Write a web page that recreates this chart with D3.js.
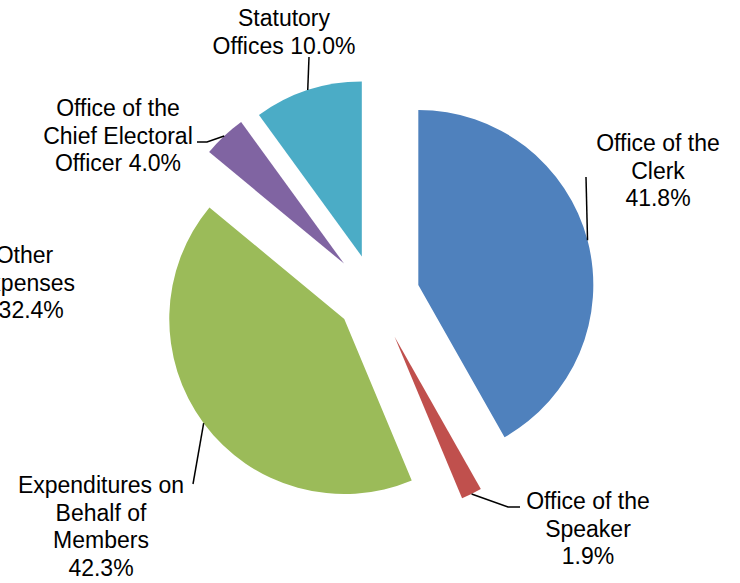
<!DOCTYPE html>
<html>
<head>
<meta charset="utf-8">
<script src="https://cdn.jsdelivr.net/npm/d3@7"></script>
<style>
  html, body { margin: 0; padding: 0; background: #fff; }
  svg { display: block; }
  text { font-family: "Liberation Sans", Arial, sans-serif; font-size: 23px; fill: #000; }
</style>
</head>
<body>
<svg id="chart" width="740" height="583"></svg>
<script>
// ---- data ----
const categories = [
  "Office of the Clerk",
  "Office of the Speaker",
  "Expenditures on Behalf of Members",
  "Other Expenses",
  "Office of the Chief Electoral Officer",
  "Statutory Offices"
];
const values = [41.8, 1.9, 42.3, -32.4, 4.0, 10.0];
const nameLines = [
  ["Office of the", "Clerk"],
  ["Office of the", "Speaker"],
  ["Expenditures on", "Behalf of", "Members"],
  ["Other", "Expenses"],
  ["Office of the", "Chief Electoral", "Officer"],
  ["Statutory", "Offices"]
];
const colors = ["#4F81BD", "#C0504D", "#9BBB59", "#F79646", "#8064A2", "#4BACC6"];

// ---- layout ----
const svg = d3.select("#chart");
const cx = 374.8, cy = 296.4, R = 175;
const explode = [45, 45, 38, 0, 45, 42];
const pctJoin = [false, false, false, false, true, true];
const labelPos = [
  { x: 658, y: 151, leader: [[586, 177]] },
  { x: 588, y: 509, leader: [[508, 507], [520, 507]] },
  { x: 101, y: 493, leader: [[193, 484]] },
  { x: 24.5, y: 263, leader: null },
  { x: 118, y: 116, leader: [[207, 142], [197, 142]] },
  { x: 284, y: 26, leader: [[309, 57]] }
];
const lineH = 27.5;

const pie = d3.pie().sort(null).value(d => Math.max(0, d)).startAngle(0).endAngle(2 * Math.PI);
const arcs = pie(values);
const arc = d3.arc().innerRadius(0).outerRadius(R);
const fmt = d3.format(".1f");

const g = svg.append("g").attr("transform", `translate(${cx},${cy})`);

arcs.forEach((a, i) => {
  if (a.endAngle - a.startAngle <= 0) return;
  const mid = (a.startAngle + a.endAngle) / 2;
  const ox = explode[i] * Math.sin(mid), oy = -explode[i] * Math.cos(mid);
  g.append("path")
    .attr("d", arc(a))
    .attr("transform", `translate(${ox},${oy})`)
    .attr("fill", colors[i]);
});

// leader lines
arcs.forEach((a, i) => {
  const lp = labelPos[i];
  if (!lp.leader || a.endAngle - a.startAngle <= 0) return;
  const mid = (a.startAngle + a.endAngle) / 2;
  const sx = cx + (explode[i] + R) * Math.sin(mid);
  const sy = cy - (explode[i] + R) * Math.cos(mid);
  const pts = [[sx, sy]].concat(lp.leader);
  svg.append("path")
    .attr("d", d3.line()(pts))
    .attr("fill", "none")
    .attr("stroke", "#000")
    .attr("stroke-width", 1.5);
});

// labels
categories.forEach((c, i) => {
  const lines = nameLines[i].slice();
  const pct = fmt(values[i]) + "%";
  if (pctJoin[i]) lines[lines.length - 1] += " " + pct; else lines.push(pct);
  const t = svg.append("text").attr("text-anchor", "middle");
  lines.forEach((ln, k) => {
    t.append("tspan").attr("x", labelPos[i].x).attr("y", labelPos[i].y + k * lineH).text(ln);
  });
});
</script>
</body>
</html>
